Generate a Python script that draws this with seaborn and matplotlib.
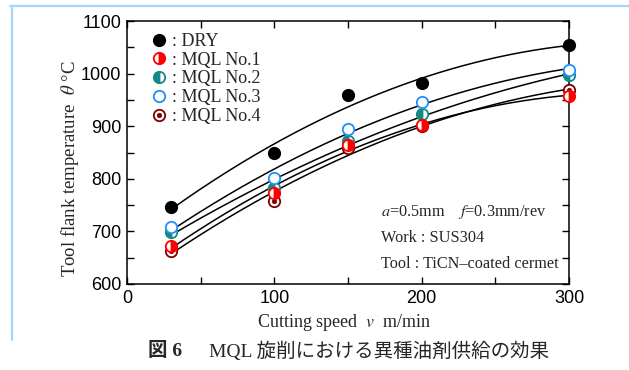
import numpy as np
import pandas as pd
import matplotlib
matplotlib.use("Agg")
import matplotlib.pyplot as plt
from matplotlib.lines import Line2D
import seaborn as sns

# ---- data ----
speed = [30, 100, 150, 200, 300]
dry = [746, 849, 959, 982, 1054]
mql1 = [672, 773, 865, 902, 958]
mql2 = [699, 782, 872, 923, 997]
mql3 = [708, 801, 895, 946, 1007]
mql4 = [663, 758, 858, 900, 969]
series_names = ["DRY", "MQL No.1", "MQL No.2", "MQL No.3", "MQL No.4"]
x_ticks = [0, 50, 100, 150, 200, 250, 300]
x_ticklabels = ["0", "", "100", "", "200", "", "300"]
y_ticks = [600, 650, 700, 750, 800, 850, 900, 950, 1000, 1050, 1100]
y_ticklabels = ["600", "", "700", "", "800", "", "900", "", "1000", "", "1100"]

RED = "#ff0000"
TEAL = "#118a84"
BLUE = "#1e8fff"
DARKRED = "#7a0000"

sns.set_theme(style="ticks")
plt.rcParams["font.family"] = ["Liberation Sans", "DejaVu Sans"]
plt.rcParams["mathtext.fontset"] = "stix"

fig = plt.figure(figsize=(6.29, 3.70), dpi=100)
fig.patch.set_facecolor("white")
ax = fig.add_axes([127 / 629, 1 - 284 / 370, 442 / 629, 263 / 370])
ax.set_facecolor("white")

# fitted curves (quadratic least squares through each series)
all_series = [dry, mql1, mql2, mql3, mql4]
rows = []
xs = np.linspace(30, 300, 200)
for name, vals in zip(series_names, all_series):
    c = np.polyfit(speed, vals, 2)
    for xv, yv in zip(xs, np.polyval(c, xs)):
        rows.append({"v": xv, "T": yv, "series": name})
curves = pd.DataFrame(rows)
sns.lineplot(data=curves, x="v", y="T", units="series", estimator=None,
             color="black", lw=1.1, ax=ax, legend=False)

ms = 8.2
mew = 1.3
h_dry, = ax.plot(speed, dry, "o", ms=ms, mfc="black", mec="black", mew=mew,
                 ls="none", clip_on=False, zorder=5)
h4a, = ax.plot(speed, mql4, "o", ms=ms, mfc="white", mec=DARKRED, mew=mew,
               ls="none", clip_on=False, zorder=5)
h4b, = ax.plot(speed, mql4, "o", ms=3.2, mfc=DARKRED, mec=DARKRED, mew=0.5,
               ls="none", clip_on=False, zorder=5)
h1, = ax.plot(speed, mql1, "o", ms=ms, fillstyle="right", mfc=RED,
              markerfacecoloralt="white", mec=RED, mew=mew, ls="none",
              clip_on=False, zorder=6)
h2, = ax.plot(speed, mql2, "o", ms=ms, fillstyle="left", mfc=TEAL,
              markerfacecoloralt="white", mec=TEAL, mew=mew, ls="none",
              clip_on=False, zorder=5)
h3, = ax.plot(speed, mql3, "o", ms=ms, mfc="white", mec=BLUE, mew=mew,
              ls="none", clip_on=False, zorder=6)

ax.set_xlim(0, 300)
ax.set_ylim(600, 1100)
ax.set_xticks(x_ticks)
ax.set_xticklabels(x_ticklabels)
ax.set_yticks(y_ticks)
ax.set_yticklabels(y_ticklabels)
ax.tick_params(direction="in", top=True, right=True, length=5, width=1,
               labelsize=13, pad=4, colors="black")
for s in ax.spines.values():
    s.set_visible(True)
    s.set_linewidth(1.1)
    s.set_color("black")

serif = {"family": "Liberation Serif", "size": 13}
ax.set_xlabel(r"Cutting speed  $v$  m/min", fontdict=serif)
ax.set_ylabel(r"Tool flank temperature  $\theta$ °C",
              fontdict={"family": "Liberation Serif", "size": 13.5})
ax.xaxis.set_label_coords(0.491, -0.105)
ax.yaxis.set_label_coords(-0.105, 0.44)

leg = ax.legend(handles=[h_dry, h1, h2, h3, (h4a, h4b)],
                labels=[": " + n for n in series_names],
                loc="upper left", bbox_to_anchor=(0.055, 0.955),
                frameon=False, handlelength=0.8, handletextpad=0.35,
                labelspacing=0.1, borderpad=0, borderaxespad=0,
                prop={"family": "Liberation Serif", "size": 13})

note = {"family": "Liberation Serif", "size": 11.7}
ax.text(0.575, 0.273, r"$a$=0.5mm    $f$=0.3mm/rev", transform=ax.transAxes,
        va="center", ha="left", fontdict=note)
ax.text(0.575, 0.175, "Work : SUS304", transform=ax.transAxes,
        va="center", ha="left", fontdict=note)
ax.text(0.575, 0.076, "Tool : TiCN\u2013coated cermet", transform=ax.transAxes,
        va="center", ha="left", fontdict=note)

cap_y = 1 - 351 / 370
fig.text(148 / 629, cap_y, "図 6", va="center", ha="left", fontsize=14,
         fontweight="bold", family=["Liberation Serif", "Noto Sans CJK JP"])
fig.text(209 / 629, cap_y, "MQL 旋削における異種油剤供給の効果", va="center",
         ha="left", fontsize=14, family=["Liberation Serif", "Noto Sans CJK JP"])

# light blue frame lines
fig.add_artist(Line2D([10 / 629, 1.0], [1 - 6 / 370, 1 - 6 / 370],
                      color="#9fd9f3", lw=1.6, transform=fig.transFigure))
fig.add_artist(Line2D([12 / 629, 12 / 629], [1 - 6 / 370, 1 - 340 / 370],
                      color="#9fd9f3", lw=1.6, transform=fig.transFigure))

fig.savefig("out.png", dpi=100, facecolor="white")
